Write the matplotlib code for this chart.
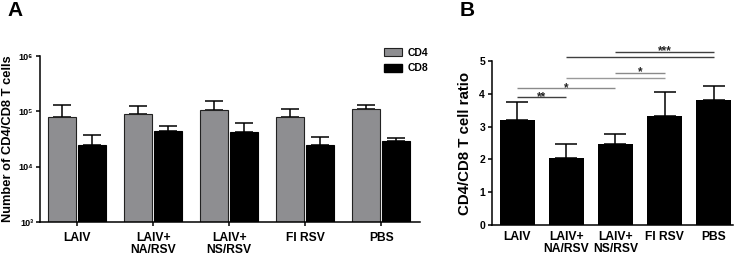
import matplotlib
matplotlib.use("Agg")
import matplotlib.pyplot as plt
import numpy as np
from matplotlib.patches import Patch

plt.rcParams['font.family'] = ['Liberation Sans', 'DejaVu Sans']
plt.rcParams['font.weight'] = 'bold'

groups = ["LAIV", "LAIV+\nNA/RSV", "LAIV+\nNS/RSV", "FI RSV", "PBS"]
cd4_mean = [7.9e4, 9.1e4, 1.04e5, 7.8e4, 1.10e5]
cd4_err = [5.3e4, 3.6e4, 5.2e4, 3.1e4, 1.8e4]
cd8_mean = [2.44e4, 4.4e4, 4.2e4, 2.44e4, 2.9e4]
cd8_err = [1.36e4, 1.1e4, 1.9e4, 0.96e4, 0.35e4]
ytick_vals_a = [1e3, 1e4, 1e5, 1e6]
ytick_labels_a = ["10³", "10⁴", "10⁵", "10⁶"]

ratio_mean = [3.20, 2.05, 2.47, 3.32, 3.81]
ratio_err = [0.56, 0.41, 0.29, 0.73, 0.42]
ytick_vals_b = [0, 1, 2, 3, 4, 5]
# significance brackets: start group, end group, height, label, colour
sig_start = [0, 0, 1, 2, 1, 2]
sig_end = [1, 2, 3, 3, 4, 4]
sig_y = [3.89, 4.17, 4.49, 4.64, 5.13, 5.28]
sig_label = ["**", "*", "", "*", "", "***"]
sig_color = ["#404040", "#8a8a8a", "#9a9a9a", "#8a8a8a", "#404040", "#404040"]

W, H = 740, 256
fig = plt.figure(figsize=(W / 100, H / 100), dpi=100)

def axrect(l, r, b, t):
    return [l / W, 1 - b / H, (r - l) / W, (b - t) / H]

gray = "#8e8e91"
lw = 1.1
BOLD = "bold"

# ---- Panel A ----
axA = fig.add_axes(axrect(40, 420, 222, 56))
x = np.arange(len(groups))
off = 0.197
bw = 0.37
axA.bar(x - off, cd4_mean, bw, color=gray, edgecolor="#222222", linewidth=0.8, zorder=2)
axA.bar(x + off, cd8_mean, bw, color="black", edgecolor="black", linewidth=0.8, zorder=2)
axA.errorbar(x - off, cd4_mean, yerr=[np.zeros(5), cd4_err], fmt="none", ecolor="black",
             elinewidth=lw, capsize=6.5, capthick=lw, zorder=1)
axA.errorbar(x + off, cd8_mean, yerr=[np.zeros(5), cd8_err], fmt="none", ecolor="black",
             elinewidth=lw, capsize=6.5, capthick=lw, zorder=1)
axA.set_yscale("log")
axA.set_ylim(1e3, 1e6)
axA.set_xlim(-0.49, 4.51)
axA.set_yticks(ytick_vals_a)
axA.set_yticklabels(ytick_labels_a, fontsize=6.5, fontweight=BOLD)
axA.yaxis.set_minor_locator(matplotlib.ticker.NullLocator())
axA.set_xticks(x)
axA.set_xticklabels(groups, fontsize=8.7, fontweight=BOLD, linespacing=1.0)
axA.tick_params(axis="both", direction="out", length=3, width=lw, pad=2)
axA.tick_params(axis="x", pad=4)
for s in ["top", "right"]:
    axA.spines[s].set_visible(False)
for s in ["left", "bottom"]:
    axA.spines[s].set_linewidth(lw)
axA.set_ylabel("Number of CD4/CD8 T cells", fontsize=9.3, fontweight=BOLD, labelpad=3)
handles = [Patch(facecolor=gray, edgecolor="#222222", linewidth=0.8, label="CD4"),
           Patch(facecolor="black", edgecolor="black", label="CD8")]
axA.legend(handles=handles, loc="upper left", bbox_to_anchor=(0.895, 1.075), frameon=False,
           prop={"size": 7.5, "weight": "bold"}, handlelength=1.7, handleheight=0.75,
           labelspacing=0.55, handletextpad=0.5, borderaxespad=0)

# ---- Panel B ----
axB = fig.add_axes(axrect(492, 733, 225, 61))
axB.bar(x, ratio_mean, 0.71, color="black", zorder=2)
axB.errorbar(x, ratio_mean, yerr=[np.zeros(5), ratio_err], fmt="none", ecolor="black",
             elinewidth=lw, capsize=8, capthick=lw, zorder=1)
axB.set_ylim(0, 5)
axB.set_xlim(-0.51, 4.39)
axB.set_yticks(ytick_vals_b)
axB.set_yticklabels([str(v) for v in ytick_vals_b], fontsize=7.5, fontweight=BOLD)
axB.set_xticks(x)
axB.set_xticklabels(groups, fontsize=8.7, fontweight=BOLD, linespacing=1.0)
axB.tick_params(axis="y", direction="out", length=3, width=lw, pad=2)
axB.tick_params(axis="x", length=0, pad=4)
for s in ["top", "right"]:
    axB.spines[s].set_visible(False)
for s in ["left", "bottom"]:
    axB.spines[s].set_linewidth(lw)
axB.set_ylabel("CD4/CD8 T cell ratio", fontsize=10.8, fontweight=BOLD, labelpad=5)
for a, b, yv, lab, col in zip(sig_start, sig_end, sig_y, sig_label, sig_color):
    axB.plot([a, b], [yv, yv], color=col, lw=1.0, clip_on=False, solid_capstyle="butt")
    if lab:
        axB.text((a + b) / 2, yv - 0.08, lab, ha="center", va="baseline", fontsize=8.5,
                 fontweight=BOLD, color="#222222", clip_on=False)

fig.text(7 / W, 1 - 11 / H, "A", fontsize=15, fontweight=BOLD, va="center", ha="left")
fig.text(460 / W, 1 - 11 / H, "B", fontsize=15, fontweight=BOLD, va="center", ha="left")

fig.savefig("out.png", dpi=100)
